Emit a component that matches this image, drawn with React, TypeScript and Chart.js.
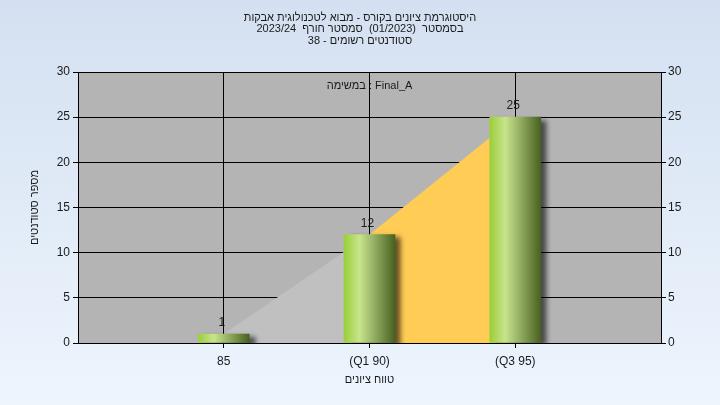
import React, { useEffect, useRef } from "react";
import { Chart, registerables } from "chart.js";

Chart.register(...registerables);

const xValues = [85, 90, 95];
const tickLabels = ["85", "(Q1 90)", "(Q3 95)"];
const counts = [1, 12, 25];
const lowerSegment = [
  { x: 85, y: 1 },
  { x: 90, y: 12 },
];
const iqrSegment = [
  { x: 90, y: 12 },
  { x: 95, y: 25 },
];
// title lines, each split into visual left-to-right pieces (right-to-left reading)
const titleLine1 = ["היסטוגרמת ציונים בקורס - מבוא לטכנולוגית אבקות"];
const titleLine2 = ["2023/24  ", "סמסטר חורף", "  (01/2023)  ", "בסמסטר"];
const titleLine3 = ["38 - ", "סטודנטים רשומים"];
const taskLabel = ["במשימה", " : Final_A"];
const yTitle = "מספר סטודנטים";
const xTitle = "טווח ציונים";

const FONT = "'Liberation Sans', 'DejaVu Sans', sans-serif";
const TEXT = "#1a1a1a";

function drawPieces(ctx: any, pieces: string[], cx: number, cy: number) {
  ctx.direction = "ltr";
  ctx.textAlign = "left";
  const widths = pieces.map((p) => ctx.measureText(p).width);
  const total = widths.reduce((a, b) => a + b, 0);
  let x = cx - total / 2;
  pieces.forEach((p, i) => {
    ctx.fillText(p, x, cy);
    x += widths[i];
  });
}

const decorPlugin = {
  id: "decor",
  beforeDraw(chart: any) {
    const { ctx, width, height, chartArea } = chart;
    ctx.save();
    const g = ctx.createLinearGradient(0, 0, 0, height);
    g.addColorStop(0, "#d4e0f1");
    g.addColorStop(1, "#edf5fd");
    ctx.fillStyle = g;
    ctx.fillRect(0, 0, width, height);
    ctx.fillStyle = "#b4b4b4";
    ctx.fillRect(
      chartArea.left,
      chartArea.top,
      chartArea.right - chartArea.left,
      chartArea.bottom - chartArea.top
    );
    ctx.restore();
  },
  beforeDatasetDraw(chart: any, args: any) {
    if (args.index === 0) {
      const ctx = chart.ctx;
      ctx.save();
      ctx.shadowColor = "rgba(0,0,0,0.6)";
      ctx.shadowBlur = 5;
      ctx.shadowOffsetX = 6;
      ctx.shadowOffsetY = 3;
    }
  },
  afterDatasetDraw(chart: any, args: any) {
    if (args.index === 0) {
      chart.ctx.restore();
    }
  },
  afterDraw(chart: any) {
    const { ctx, chartArea } = chart;
    ctx.save();
    ctx.fillStyle = TEXT;
    ctx.textBaseline = "middle";
    ctx.font = `11px ${FONT}`;
    drawPieces(ctx, titleLine1, 360, 17.5);
    drawPieces(ctx, titleLine2, 360, 29);
    drawPieces(ctx, titleLine3, 360, 40.5);
    const midX = (chartArea.left + chartArea.right) / 2;
    drawPieces(ctx, taskLabel, midX, chartArea.top + 14);
    drawPieces(ctx, [xTitle], midX, 380);

    ctx.font = `12px ${FONT}`;
    ctx.textAlign = "center";
    const meta = chart.getDatasetMeta(0);
    meta.data.forEach((el: any, i: number) => {
      ctx.fillText(String(counts[i]), el.x - 2, el.y - 11);
    });

    ctx.font = `11px ${FONT}`;
    ctx.translate(35, (chartArea.top + chartArea.bottom) / 2);
    ctx.rotate(-Math.PI / 2);
    drawPieces(ctx, [yTitle], 0, 0);
    ctx.restore();
  },
};

function barGradient(context: any) {
  const chart = context.chart;
  const xs = chart.scales && chart.scales.x;
  if (!xs || context.dataIndex == null) return "#9ccf3e";
  const cx = xs.getPixelForValue(xValues[context.dataIndex]);
  if (!isFinite(cx)) return "#9ccf3e";
  const g = chart.ctx.createLinearGradient(cx - 25, 0, cx + 25, 0);
  g.addColorStop(0, "#9ccf3c");
  g.addColorStop(0.3, "#c8e48c");
  g.addColorStop(0.6, "#93ad62");
  g.addColorStop(1, "#4a6322");
  return g;
}

export default function App() {
  const canvasRef = useRef<HTMLCanvasElement | null>(null);

  useEffect(() => {
    document.body.style.margin = "0";
    const canvas = canvasRef.current;
    if (!canvas) return;
    const chart = new Chart(canvas, {
      type: "bar",
      data: {
        datasets: [
          {
            type: "bar",
            data: xValues.map((x, i) => ({ x, y: counts[i] })),
            backgroundColor: barGradient,
            borderWidth: 0,
            barThickness: 51,
            order: 0,
          } as any,
          {
            type: "line",
            data: lowerSegment,
            fill: "origin",
            backgroundColor: "#c0c0c0",
            borderWidth: 0,
            pointRadius: 0,
            order: 1,
          } as any,
          {
            type: "line",
            data: iqrSegment,
            fill: "origin",
            backgroundColor: "#ffcc55",
            borderWidth: 0,
            pointRadius: 0,
            order: 2,
          } as any,
        ],
      },
      options: {
        animation: false,
        responsive: true,
        maintainAspectRatio: false,
        layout: { padding: { top: 72, left: 0, right: 0, bottom: 0 } },
        plugins: {
          legend: { display: false },
          title: { display: false },
          tooltip: { enabled: false },
        },
        scales: {
          x: {
            type: "linear",
            min: 80,
            max: 100,
            offset: false,
            afterBuildTicks: (scale: any) => {
              scale.ticks = xValues.map((v) => ({ value: v }));
            },
            afterFit: (scale: any) => {
              scale.height = 62;
            },
            ticks: {
              autoSkip: false,
              maxRotation: 0,
              color: TEXT,
              font: { family: FONT, size: 12 },
              padding: 6,
              callback: (v: any) => {
                const i = xValues.indexOf(Number(v));
                return i >= 0 ? tickLabels[i] : "";
              },
            },
            grid: { color: "#000", lineWidth: 1, tickLength: 5, drawOnChartArea: true, offset: false },
            border: { color: "#000", width: 1 },
          },
          y: {
            position: "left",
            min: 0,
            max: 30,
            ticks: {
              stepSize: 5,
              color: TEXT,
              font: { family: FONT, size: 12 },
              padding: 3,
            },
            afterFit: (scale: any) => {
              scale.width = 78;
            },
            grid: { color: "#000", lineWidth: 1, tickLength: 5 },
            border: { color: "#000", width: 1 },
          },
          y2: {
            position: "right",
            min: 0,
            max: 30,
            ticks: {
              stepSize: 5,
              color: TEXT,
              font: { family: FONT, size: 12 },
              padding: 2,
            },
            afterFit: (scale: any) => {
              scale.width = 59;
            },
            grid: { color: "#000", lineWidth: 1, tickLength: 5, drawOnChartArea: false },
            border: { color: "#000", width: 1 },
          },
        },
      } as any,
      plugins: [decorPlugin],
    });
    return () => chart.destroy();
  }, []);

  return (
    <div style={{ position: "absolute", left: 0, top: 0, width: 720, height: 405 }}>
      <canvas ref={canvasRef} />
    </div>
  );
}
